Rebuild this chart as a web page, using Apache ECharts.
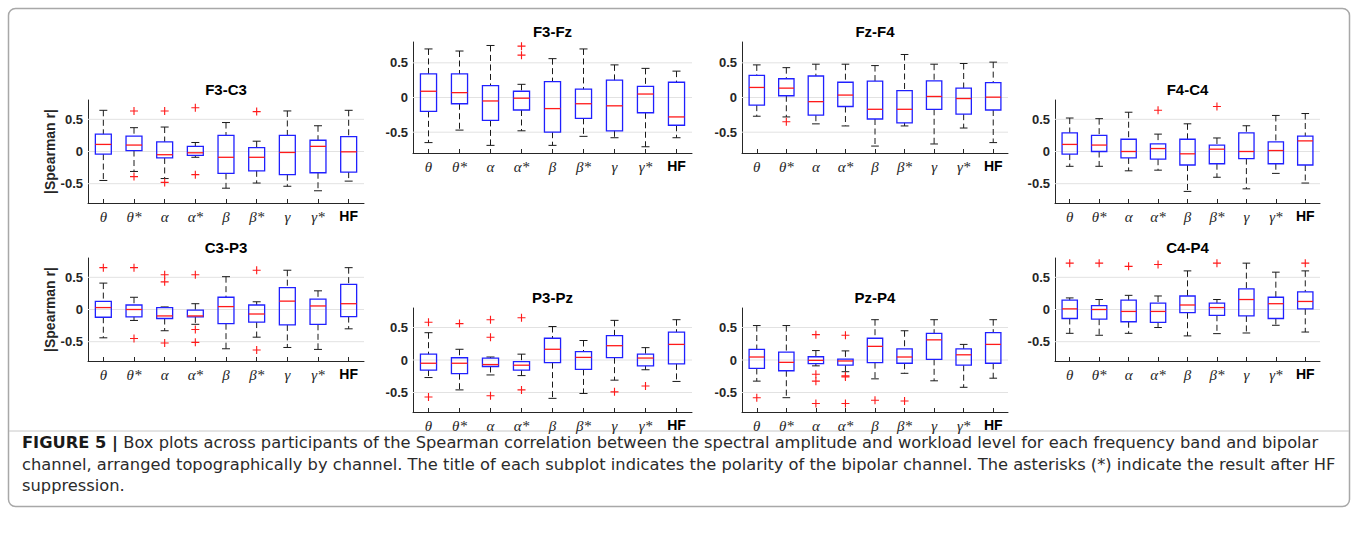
<!DOCTYPE html>
<html>
<head>
<meta charset="utf-8">
<title>Figure 5 box plots</title>
<script src="https://cdn.jsdelivr.net/npm/echarts/dist/echarts.min.js"></script>
<style>
  html, body { margin: 0; padding: 0; background: #fff; }
  #fig { width: 1358px; height: 550px; }
</style>
</head>
<body>
<div id="fig"></div>
<script>
// bands on every x axis
const categories = ['θ', 'θ*', 'α', 'α*', 'β', 'β*', 'γ', 'γ*', 'HF'];
const yTicks = [-0.5, 0, 0.5];

// each box: [lower whisker, Q1, median, Q3, upper whisker]; outliers: [band index, value]
const f3c3Box = [
  [-0.45, -0.04, 0.11, 0.27, 0.64], [-0.31, 0.015, 0.10, 0.24, 0.37], [-0.42, -0.10, -0.05, 0.15, 0.38],
  [-0.09, -0.06, -0.02, 0.08, 0.14], [-0.57, -0.34, -0.09, 0.25, 0.45], [-0.49, -0.30, -0.09, 0.06, 0.16],
  [-0.54, -0.36, -0.015, 0.25, 0.63], [-0.61, -0.33, 0.08, 0.175, 0.40], [-0.46, -0.32, -0.005, 0.23, 0.64]
];
const f3c3Out = [[1, 0.63], [1, -0.39], [2, 0.63], [2, -0.48], [3, 0.68], [3, -0.36], [5, 0.62]];

const f3fzBox = [
  [-0.65, -0.20, 0.09, 0.34, 0.70], [-0.47, -0.09, 0.07, 0.34, 0.67], [-0.69, -0.33, -0.05, 0.17, 0.75],
  [-0.48, -0.18, -0.01, 0.09, 0.19], [-0.69, -0.50, -0.16, 0.23, 0.56], [-0.56, -0.30, -0.09, 0.12, 0.70],
  [-0.58, -0.48, -0.12, 0.25, 0.47], [-0.71, -0.22, 0.05, 0.16, 0.42], [-0.58, -0.40, -0.28, 0.22, 0.38]
];
const f3fzOut = [[3, 0.74], [3, 0.61]];

const fzf4Box = [
  [-0.27, -0.11, 0.145, 0.32, 0.47], [-0.28, 0.025, 0.135, 0.27, 0.43], [-0.38, -0.255, -0.06, 0.31, 0.48],
  [-0.41, -0.13, 0.035, 0.22, 0.48], [-0.70, -0.31, -0.17, 0.235, 0.46], [-0.41, -0.365, -0.17, 0.10, 0.62],
  [-0.67, -0.17, 0.015, 0.24, 0.48], [-0.44, -0.24, -0.015, 0.135, 0.49], [-0.65, -0.18, 0.005, 0.215, 0.51]
];
const fzf4Out = [[1, -0.35]];

const f4c4Box = [
  [-0.23, -0.04, 0.11, 0.29, 0.52], [-0.23, 0.0, 0.10, 0.25, 0.51], [-0.30, -0.10, 0.0, 0.19, 0.61],
  [-0.29, -0.12, 0.046, 0.12, 0.27], [-0.62, -0.21, -0.036, 0.19, 0.43], [-0.40, -0.19, 0.036, 0.10, 0.21],
  [-0.58, -0.11, 0.0, 0.29, 0.40], [-0.34, -0.19, 0.015, 0.15, 0.56], [-0.49, -0.21, 0.165, 0.24, 0.59]
];
const f4c4Out = [[3, 0.64], [5, 0.70]];

const c3p3Box = [
  [-0.44, -0.12, 0.03, 0.125, 0.41], [-0.17, -0.115, 0.0, 0.07, 0.19], [-0.33, -0.14, -0.10, 0.03, 0.04],
  [-0.23, -0.115, -0.10, -0.01, 0.09], [-0.61, -0.22, 0.045, 0.19, 0.51], [-0.43, -0.195, -0.07, 0.07, 0.12],
  [-0.59, -0.24, 0.13, 0.34, 0.61], [-0.62, -0.23, 0.055, 0.16, 0.29], [-0.30, -0.11, 0.09, 0.39, 0.65]
];
const c3p3Out = [[0, 0.65], [1, 0.65], [1, -0.45], [2, 0.54], [2, 0.43], [2, -0.52], [3, 0.54], [3, -0.31], [3, -0.51], [5, 0.61], [5, -0.63]];

const c4p4Box = [
  [-0.37, -0.14, 0.01, 0.145, 0.18], [-0.40, -0.15, 0.0, 0.06, 0.155], [-0.37, -0.19, -0.03, 0.145, 0.22],
  [-0.28, -0.20, -0.03, 0.10, 0.21], [-0.41, -0.05, 0.07, 0.21, 0.60], [-0.375, -0.09, 0.03, 0.10, 0.155],
  [-0.365, -0.10, 0.155, 0.32, 0.72], [-0.245, -0.14, 0.09, 0.19, 0.58], [-0.35, 0.01, 0.125, 0.275, 0.60]
];
const c4p4Out = [[0, 0.72], [1, 0.72], [2, 0.67], [3, 0.70], [5, 0.72], [8, 0.72]];

const p3pzBox = [
  [-0.27, -0.155, -0.05, 0.09, 0.42], [-0.46, -0.21, -0.05, 0.035, 0.165], [-0.23, -0.10, -0.07, 0.03, 0.046],
  [-0.24, -0.155, -0.08, -0.025, 0.09], [-0.59, -0.04, 0.165, 0.335, 0.515], [-0.515, -0.145, 0.04, 0.13, 0.30],
  [-0.31, 0.036, 0.22, 0.375, 0.61], [-0.15, -0.09, 0.03, 0.09, 0.19], [-0.33, -0.06, 0.24, 0.43, 0.62]
];
const p3pzOut = [[0, 0.58], [0, -0.57], [1, 0.56], [2, 0.62], [2, 0.35], [2, -0.55], [3, 0.65], [3, -0.46], [6, -0.49], [7, -0.40]];

const pzp4Box = [
  [-0.325, -0.13, 0.046, 0.165, 0.53], [-0.58, -0.165, -0.036, 0.12, 0.53], [-0.09, -0.057, -0.005, 0.05, 0.145],
  [-0.18, -0.08, -0.015, 0.015, 0.14], [-0.29, -0.04, 0.21, 0.335, 0.62], [-0.205, -0.05, 0.046, 0.17, 0.45],
  [-0.32, 0.01, 0.31, 0.41, 0.62], [-0.42, -0.08, 0.08, 0.17, 0.24], [-0.28, -0.05, 0.24, 0.42, 0.62]
];
const pzp4Out = [[0, -0.58], [2, 0.39], [2, -0.22], [2, -0.325], [2, -0.67], [3, 0.38], [3, -0.245], [3, -0.26], [3, -0.67], [4, -0.62], [5, -0.63]];

const caption = [
  '{b|FIGURE 5 |} Box plots across participants of the Spearman correlation between the spectral amplitude and workload level for each frequency band and bipolar',
  'channel, arranged topographically by channel. The title of each subplot indicates the polarity of the bipolar channel. The asterisks (*) indicate the result after HF',
  'suppression.'
];

// panel placement (px) and which data goes where
const panels = [
  { name: 'F3-C3', box: f3c3Box, out: f3c3Out, left: 88,  top: 100, width: 276, height: 103, ylabel: true },
  { name: 'F3-Fz', box: f3fzBox, out: f3fzOut, left: 413, top: 42,  width: 279, height: 111 },
  { name: 'Fz-F4', box: fzf4Box, out: fzf4Out, left: 742, top: 42,  width: 266, height: 111 },
  { name: 'F4-C4', box: f4c4Box, out: f4c4Out, left: 1055, top: 100, width: 265, height: 103 },
  { name: 'C3-P3', box: c3p3Box, out: c3p3Out, left: 88,  top: 258, width: 276, height: 103, ylabel: true },
  { name: 'P3-Pz', box: p3pzBox, out: p3pzOut, left: 413, top: 308, width: 279, height: 104 },
  { name: 'Pz-P4', box: pzp4Box, out: pzp4Out, left: 742, top: 308, width: 266, height: 104 },
  { name: 'C4-P4', box: c4p4Box, out: c4p4Out, left: 1055, top: 258, width: 265, height: 103 }
];

const AX = '#262626';
const dashed = () => ({ stroke: '#1a1a1a', lineWidth: 1, lineDash: [6, 3.5] });
const solid = () => ({ stroke: '#1a1a1a', lineWidth: 1 });

function renderBox(params, api) {
  const i = api.value(0);
  const lo = api.value(1), q1 = api.value(2), med = api.value(3), q3 = api.value(4), hi = api.value(5);
  const band = api.size([1, 0])[0];
  const hw = band * 0.26, cw = band * 0.13;
  const x = api.coord([i, 0])[0];
  const y = v => api.coord([i, v])[1];
  return {
    type: 'group',
    children: [
      { type: 'line', shape: { x1: x, y1: y(hi), x2: x, y2: y(q3) }, style: dashed() },
      { type: 'line', shape: { x1: x, y1: y(q1), x2: x, y2: y(lo) }, style: dashed() },
      { type: 'line', shape: { x1: x - cw, y1: y(hi), x2: x + cw, y2: y(hi) }, style: solid() },
      { type: 'line', shape: { x1: x - cw, y1: y(lo), x2: x + cw, y2: y(lo) }, style: solid() },
      { type: 'rect', shape: { x: x - hw, y: y(q3), width: 2 * hw, height: y(q1) - y(q3) },
        style: { fill: 'none', stroke: '#2020ff', lineWidth: 1.3 } },
      { type: 'line', shape: { x1: x - hw, y1: y(med), x2: x + hw, y2: y(med) },
        style: { stroke: '#ff1a1a', lineWidth: 1.3 } }
    ]
  };
}

function renderGridLine(params, api) {
  const cs = params.coordSys;
  const y = api.coord([0, api.value(1)])[1];
  return { type: 'line', shape: { x1: cs.x, y1: y, x2: cs.x + cs.width, y2: y },
    style: { stroke: '#e2e2e2', lineWidth: 1 } };
}

const plusSymbol = 'path://M0,4.3H10V5.7H0Z M4.3,0H5.7V10H4.3Z';

const grid = [], xAxis = [], yAxis = [], series = [], graphic = [];

graphic.push({ type: 'rect', silent: true, z: -10,
  shape: { x: 8.5, y: 8.5, width: 1341, height: 498, r: 7 },
  style: { fill: '#fff', stroke: '#a8a8a8', lineWidth: 1.5 } });
graphic.push({ type: 'line', silent: true, z: -9,
  shape: { x1: 9, y1: 431, x2: 1349, y2: 431 }, style: { stroke: '#c8c8c8', lineWidth: 1 } });
graphic.push({ type: 'text', left: 22, top: 432, silent: true,
  style: { text: caption.join('\n'), fill: '#2b2b2b', font: '16.3px "DejaVu Sans"', lineHeight: 21.5,
    rich: { b: { fontWeight: 'bold', fontSize: 16.3, fontFamily: 'DejaVu Sans', fill: '#1a1a1a' } } } });

panels.forEach((p, k) => {
  grid.push({ left: p.left, top: p.top, width: p.width, height: p.height, outerBoundsMode: 'none' });
  xAxis.push({
    type: 'category', gridIndex: k, data: categories, boundaryGap: true,
    axisLine: { show: true, onZero: false, lineStyle: { color: AX, width: 1 } },
    axisTick: { show: true, inside: true, alignWithLabel: true, length: 4, lineStyle: { color: AX } },
    splitLine: { show: false },
    axisLabel: {
      margin: 6, interval: 0,
      formatter: v => v === 'HF' ? '{hf|HF}' : '{g|' + v + '}',
      rich: {
        g: { fontFamily: 'Liberation Serif', fontStyle: 'italic', fontSize: 15, color: AX },
        hf: { fontFamily: 'Liberation Sans', fontWeight: 'bold', fontSize: 14, color: '#000' }
      }
    }
  });
  yAxis.push({
    type: 'value', gridIndex: k, min: -0.8, max: 0.8,
    axisLine: { show: true, onZero: false, lineStyle: { color: AX, width: 1 } },
    axisTick: { show: false },
    splitLine: { show: false },
    axisLabel: { customValues: yTicks, margin: 5, fontFamily: 'Liberation Sans', fontWeight: 'bold',
      fontSize: 13, color: AX, formatter: v => String(v) },
    name: p.ylabel ? '|Spearman r|' : '',
    nameLocation: 'middle', nameRotate: 90, nameGap: 31,
    nameTextStyle: { fontFamily: 'Liberation Sans', fontWeight: 'bold', fontSize: 14, color: AX }
  });
  series.push({
    type: 'custom', xAxisIndex: k, yAxisIndex: k, silent: true, z: 1,
    data: yTicks.map(v => [0, v]), renderItem: renderGridLine
  });
  series.push({
    type: 'custom', xAxisIndex: k, yAxisIndex: k, silent: true, z: 2,
    encode: { x: 0, y: [1, 2, 3, 4, 5] },
    data: p.box.map((b, i) => [i].concat(b)), renderItem: renderBox
  });
  series.push({
    type: 'scatter', xAxisIndex: k, yAxisIndex: k, silent: true, z: 3,
    symbol: plusSymbol, symbolSize: 8, itemStyle: { color: '#ff1a1a', opacity: 1 },
    data: p.out
  });
  graphic.push({ type: 'text', x: p.left + p.width / 2, y: p.top - 11, silent: true,
    style: { text: p.name, textAlign: 'center', textVerticalAlign: 'middle',
      font: 'bold 15px "Liberation Sans"', fill: '#000' } });
});

const chart = echarts.init(document.getElementById('fig'), null, { renderer: 'svg' });
chart.setOption({
  backgroundColor: '#fff',
  animation: false,
  grid: grid,
  xAxis: xAxis,
  yAxis: yAxis,
  series: series,
  graphic: graphic
});
</script>
</body>
</html>
